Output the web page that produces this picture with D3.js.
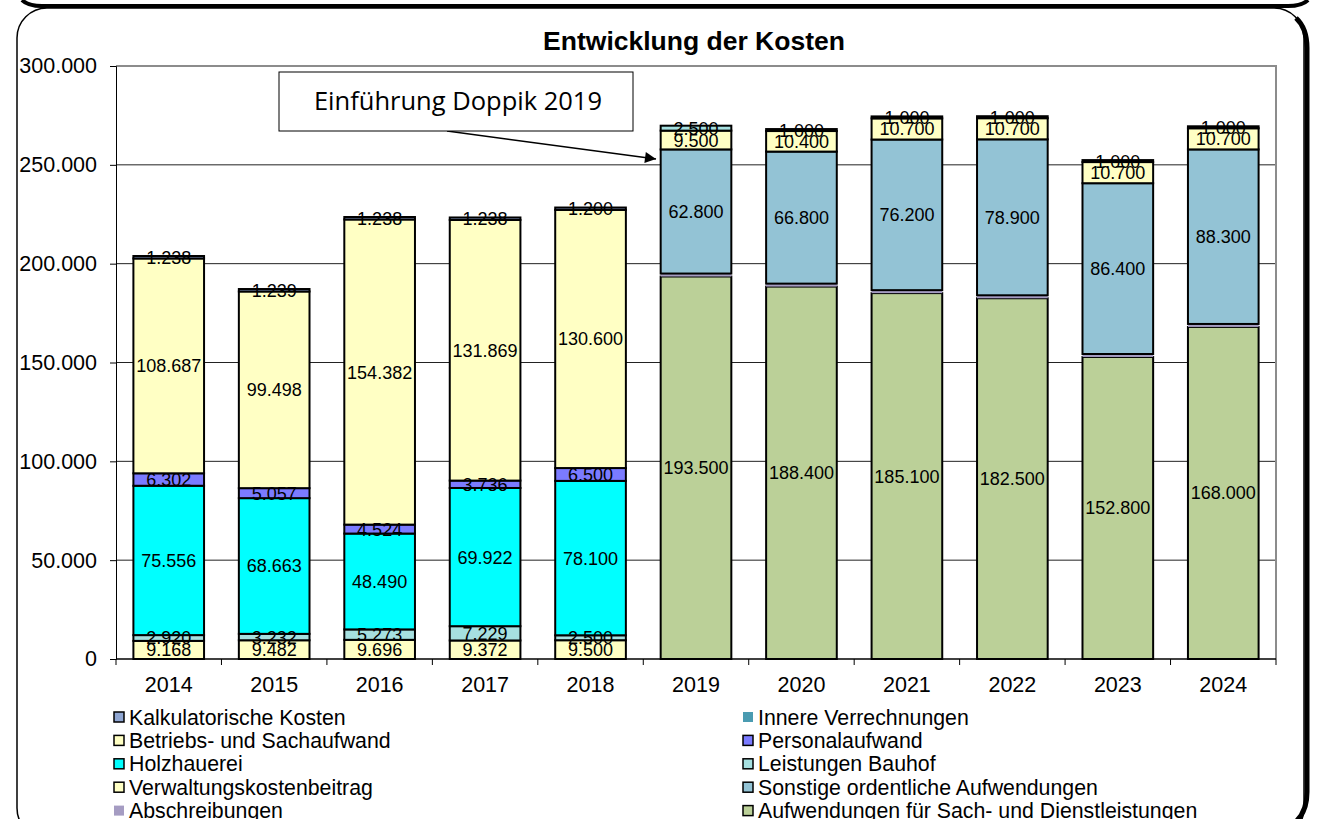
<!DOCTYPE html>
<html>
<head>
<meta charset="utf-8">
<script src="https://cdn.jsdelivr.net/npm/d3@7"></script>
<style>
  body { margin: 0; background: #fff; }
  svg { display: block; font-family: "Liberation Sans", Arial, sans-serif; }
</style>
</head>
<body>
<svg id="chart" width="1317" height="819"></svg>
<script>
// values per year, in Euro
const years = ["2014", "2015", "2016", "2017", "2018", "2019", "2020", "2021", "2022", "2023", "2024"];
const aufwendungenSachDienst = [0, 0, 0, 0, 0, 193500, 188400, 185100, 182500, 152800, 168000];
const abschreibungen = [0, 0, 0, 0, 0, 1500, 1500, 1500, 1500, 1500, 1500];
const sonstigeAufwendungen = [0, 0, 0, 0, 0, 62800, 66800, 76200, 78900, 86400, 88300];
const verwaltungskosten = [9168, 9482, 9696, 9372, 9500, 9500, 10400, 10700, 10700, 10700, 10700];
const leistungenBauhof = [2920, 3232, 5273, 7229, 2500, 2500, 1000, 1000, 1000, 1000, 1000];
const holzhauerei = [75556, 68663, 48490, 69922, 78100, 0, 0, 0, 0, 0, 0];
const personalaufwand = [6302, 5057, 4524, 3736, 6500, 0, 0, 0, 0, 0, 0];
const betriebsSachaufwand = [108687, 99498, 154382, 131869, 130600, 0, 0, 0, 0, 0, 0];
const innereVerrechnungen = [0, 0, 0, 0, 0, 0, 0, 0, 0, 0, 0];
const kalkulatorischeKosten = [1238, 1239, 1238, 1238, 1200, 0, 0, 0, 0, 0, 0];
const yTicks = [0, 50000, 100000, 150000, 200000, 250000, 300000];

// stack order bottom -> top
const series = [
  {key: "Aufwendungen für Sach- und Dienstleistungen", values: aufwendungenSachDienst, color: "#bbd098", border: true, label: true},
  {key: "Abschreibungen", values: abschreibungen, color: "#a59cc2", border: false, label: false},
  {key: "Sonstige ordentliche Aufwendungen", values: sonstigeAufwendungen, color: "#93c3d5", border: true, label: true},
  {key: "Verwaltungskostenbeitrag", values: verwaltungskosten, color: "#ffffc4", border: true, label: true},
  {key: "Leistungen Bauhof", values: leistungenBauhof, color: "#a6e0e0", border: true, label: true},
  {key: "Holzhauerei", values: holzhauerei, color: "#00ffff", border: true, label: true},
  {key: "Personalaufwand", values: personalaufwand, color: "#7b7bff", border: true, label: true},
  {key: "Betriebs- und Sachaufwand", values: betriebsSachaufwand, color: "#ffffc4", border: true, label: true},
  {key: "Innere Verrechnungen", values: innereVerrechnungen, color: "#4a9bb1", border: false, label: false},
  {key: "Kalkulatorische Kosten", values: kalkulatorischeKosten, color: "#8fa6d2", border: true, label: true}
];

// legend order (row by row, two columns)
const legendOrder = [
  "Kalkulatorische Kosten", "Innere Verrechnungen",
  "Betriebs- und Sachaufwand", "Personalaufwand",
  "Holzhauerei", "Leistungen Bauhof",
  "Verwaltungskostenbeitrag", "Sonstige ordentliche Aufwendungen",
  "Abschreibungen", "Aufwendungen für Sach- und Dienstleistungen"
];

const svg = d3.select("#chart");
const de = d3.formatLocale({decimal: ",", thousands: ".", grouping: [3], currency: ["", " €"]});
const fmt = de.format(",d");

const plot = {left: 116, right: 1276, top: 66, bottom: 659};

const x = d3.scaleBand()
  .domain(years)
  .range([plot.left, plot.right])
  .paddingInner(0.33)
  .paddingOuter(0.165);

const y = d3.scaleLinear()
  .domain([0, 300000])
  .range([plot.bottom, plot.top]);

// frame
function drawFrame() {
  svg.append("path")
    .attr("d", "M22,0 Q28,6 42,6 L1288,6 Q1302,6 1308,0")
    .attr("fill", "none").attr("stroke", "#000").attr("stroke-width", 4);
  svg.append("rect")
    .attr("x", 17).attr("y", 8).attr("width", 1287).attr("height", 830)
    .attr("rx", 30)
    .attr("fill", "none").attr("stroke", "#000").attr("stroke-width", 1.5);
  svg.append("path")
    .attr("d", "M1296,18 Q1307,28 1307,48 L1307,792 Q1307,816 1290,826")
    .attr("fill", "none").attr("stroke", "#000").attr("stroke-width", 5);
}

function drawGrid() {
  svg.append("g")
    .selectAll("line")
    .data(yTicks.filter(d => d > 0 && d < 300000))
    .join("line")
      .attr("x1", plot.left).attr("x2", plot.right)
      .attr("y1", d => y(d)).attr("y2", d => y(d))
      .attr("stroke", "#222").attr("stroke-width", 1);
  // plot area border (top/right)
  svg.append("path")
    .attr("d", `M${plot.left},${plot.top} L${plot.right},${plot.top} L${plot.right},${plot.bottom}`)
    .attr("fill", "none").attr("stroke", "#8c8c8c").attr("stroke-width", 2);
}

function drawAxes() {
  const yAxis = svg.append("g")
    .attr("transform", `translate(${plot.left},0)`)
    .call(d3.axisLeft(y).tickValues(yTicks).tickFormat(fmt).tickSize(6).tickPadding(13));
  yAxis.select(".domain").attr("stroke", "#000");
  yAxis.selectAll(".tick line").attr("stroke", "#000");
  yAxis.selectAll("text")
    .attr("font-size", 21.5).attr("fill", "#000")
    .attr("font-family", "'Liberation Sans', Arial, sans-serif");

  const xAxis = svg.append("g")
    .attr("transform", `translate(0,${plot.bottom})`)
    .call(d3.axisBottom(x).tickSize(0));
  xAxis.select(".domain").remove();
  xAxis.selectAll("text")
    .attr("y", 33).attr("dy", null)
    .attr("font-size", 21.5).attr("fill", "#000")
    .attr("font-family", "'Liberation Sans', Arial, sans-serif");

  // boundary ticks like Excel
  const step = x.step();
  svg.append("g")
    .selectAll("line")
    .data(d3.range(years.length + 1))
    .join("line")
      .attr("x1", i => plot.left + i * step).attr("x2", i => plot.left + i * step)
      .attr("y1", plot.bottom).attr("y2", plot.bottom + 6)
      .attr("stroke", "#000");
  svg.append("line")
    .attr("x1", plot.left).attr("x2", plot.right)
    .attr("y1", plot.bottom).attr("y2", plot.bottom)
    .attr("stroke", "#000").attr("stroke-width", 1.5);
}

function drawBars() {
  const table = years.map((yr, i) => {
    const row = {year: yr};
    series.forEach(s => row[s.key] = s.values[i]);
    return row;
  });
  const stacked = d3.stack().keys(series.map(s => s.key))(table);

  const groups = svg.append("g")
    .selectAll("g")
    .data(stacked)
    .join("g")
      .attr("fill", (d, i) => series[i].color)
      .attr("stroke", (d, i) => series[i].border ? "#000" : "none")
      .attr("stroke-width", 2);

  groups.selectAll("rect")
    .data(d => d.filter(p => p[1] - p[0] > 0))
    .join("rect")
      .attr("x", p => x(p.data.year))
      .attr("width", x.bandwidth())
      .attr("y", p => y(p[1]))
      .attr("height", p => y(p[0]) - y(p[1]));

  const labels = svg.append("g")
    .attr("font-size", 18)
    .attr("text-anchor", "middle")
    .attr("fill", "#000");
  stacked.forEach((layer, i) => {
    if (!series[i].label) return;
    labels.selectAll(null)
      .data(layer.filter(p => p[1] - p[0] > 0))
      .join("text")
        .attr("x", p => x(p.data.year) + x.bandwidth() / 2)
        .attr("y", p => (y(p[0]) + y(p[1])) / 2)
        .attr("dy", "0.36em")
        .text(p => fmt(p[1] - p[0]));
  });
}

function drawTitle() {
  svg.append("text")
    .attr("x", 694).attr("y", 50)
    .attr("text-anchor", "middle")
    .attr("font-size", 26.5).attr("font-weight", "bold")
    .text("Entwicklung der Kosten");
}

function drawAnnotation() {
  svg.append("defs").append("marker")
    .attr("id", "arrow")
    .attr("viewBox", "0 0 10 10")
    .attr("refX", 10).attr("refY", 5)
    .attr("markerWidth", 16).attr("markerHeight", 11)
    .attr("markerUnits", "userSpaceOnUse")
    .attr("orient", "auto")
    .append("path").attr("d", "M0,0 L10,5 L0,10 Z").attr("fill", "#000");
  svg.append("line")
    .attr("x1", 447).attr("y1", 131)
    .attr("x2", 656).attr("y2", 159)
    .attr("stroke", "#000").attr("stroke-width", 1.5)
    .attr("marker-end", "url(#arrow)");
  svg.append("rect")
    .attr("x", 279).attr("y", 72).attr("width", 354).attr("height", 59)
    .attr("fill", "#fff").attr("stroke", "#000").attr("stroke-width", 1);
  svg.append("text")
    .attr("x", 458).attr("y", 110)
    .attr("text-anchor", "middle")
    .attr("font-family", "'Open Sans', Lato, sans-serif")
    .attr("font-size", 25.5)
    .text("Einführung Doppik 2019");
}

function drawLegend() {
  const byKey = new Map(series.map(s => [s.key, s]));
  const cols = [114, 743];
  const rowY = d3.range(5).map(i => 717 + i * 23.4);
  const items = svg.append("g")
    .selectAll("g")
    .data(legendOrder)
    .join("g")
      .attr("transform", (d, i) => `translate(${cols[i % 2]},${rowY[Math.floor(i / 2)]})`);
  items.append("rect")
    .attr("x", 0).attr("y", -5).attr("width", 10).attr("height", 10)
    .attr("fill", d => byKey.get(d).color)
    .attr("stroke", d => byKey.get(d).border ? "#000" : "none")
    .attr("stroke-width", 1.5);
  items.append("text")
    .attr("x", 15).attr("dy", "0.36em")
    .attr("font-size", 21.3)
    .text(d => d);
}

drawFrame();
drawGrid();
drawBars();
drawAxes();
drawTitle();
drawAnnotation();
drawLegend();
</script>
</body>
</html>
